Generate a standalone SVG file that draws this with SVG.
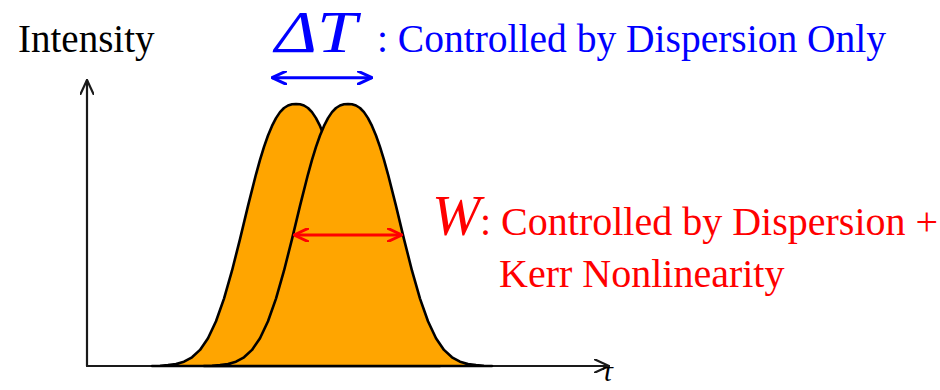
<svg xmlns="http://www.w3.org/2000/svg" width="940" height="390" viewBox="0 0 940 390">
  <style>
    .axis { fill: none; stroke: #1a1a1a; stroke-width: 2.2; stroke-linecap: round; }
    .pulse { fill: #FFA500; stroke: #000; stroke-width: 2.6; stroke-linejoin: round; }
    .blue { fill: none; stroke: #0000FF; stroke-width: 3; }
    .red { fill: none; stroke: #FF0000; stroke-width: 3; }
    text { font-family: "Liberation Serif", Tinos, "Times New Roman", Times, "Noto Serif", "DejaVu Serif", FreeSerif, serif; }
    .it { font-style: italic; }
  </style>
  <defs>
    <marker id="ah-k" viewBox="0 0 16 14" refX="15" refY="7" markerWidth="16" markerHeight="14" markerUnits="userSpaceOnUse" orient="auto-start-reverse">
      <path d="M1,0.5 L15,7 L1,13.5" fill="none" stroke="#1a1a1a" stroke-width="2.2" stroke-linejoin="round" stroke-linecap="round"/>
    </marker>
    <marker id="ah-b" viewBox="0 0 16 14" refX="15" refY="7" markerWidth="16" markerHeight="14" markerUnits="userSpaceOnUse" orient="auto-start-reverse">
      <path d="M1,0.5 L15,7 L1,13.5" fill="none" stroke="#0000FF" stroke-width="3" stroke-linejoin="round" stroke-linecap="round"/>
    </marker>
    <marker id="ah-r" viewBox="0 0 16 14" refX="15" refY="7" markerWidth="16" markerHeight="14" markerUnits="userSpaceOnUse" orient="auto-start-reverse">
      <path d="M1,0.5 L15,7 L1,13.5" fill="none" stroke="#FF0000" stroke-width="3" stroke-linejoin="round" stroke-linecap="round"/>
    </marker>
  </defs>

  <g id="axes">
    <line class="axis" x1="87" y1="366" x2="87" y2="80" marker-end="url(#ah-k)"/>
    <line class="axis" x1="87" y1="366" x2="609" y2="366" marker-end="url(#ah-k)"/>
    <text x="18" y="52" font-size="39" fill="#000">Intensity</text>
    <text class="it" x="602" y="381" font-size="30" fill="#000">τ</text>
  </g>

  <g id="pulse-left">
    <path class="pulse" d="M152,366 L160,365.7 L168,365.1 L176,364 L184,361.7 L192,357.3 L200,349.9 L208,338.2 L216,321.3 L224,298.6 L232,270.7 L240,239.1 L248,205.9 L256,174.3 L260,159.9 L264,146.9 L268,135.5 L272,125.9 L276,118.1 L280,112.1 L284,108 L288,105.5 L292,104.3 L296,104 L300,104.3 L304,105.5 L308,108 L312,112.1 L316,118.1 L320,125.9 L324,135.5 L328,146.9 L332,159.9 L336,174.3 L344,205.9 L352,239.1 L360,270.7 L368,298.6 L376,321.3 L384,338.2 L392,349.9 L400,357.3 L408,361.7 L416,364 L424,365.1 L432,365.7 L440,366 Z"/>
  </g>

  <g id="pulse-right">
    <path class="pulse" d="M204,366 L212,365.7 L220,365.1 L228,364 L236,361.7 L244,357.3 L252,349.9 L260,338.2 L268,321.3 L276,298.6 L284,270.7 L292,239.1 L300,205.9 L308,174.3 L312,159.9 L316,146.9 L320,135.5 L324,125.9 L328,118.1 L332,112.1 L336,108 L340,105.5 L344,104.3 L348,104 L352,104.3 L356,105.5 L360,108 L364,112.1 L368,118.1 L372,125.9 L376,135.5 L380,146.9 L384,159.9 L388,174.3 L396,205.9 L404,239.1 L412,270.7 L420,298.6 L428,321.3 L436,338.2 L444,349.9 L452,357.3 L460,361.7 L468,364 L476,365.1 L484,365.7 L492,366 Z"/>
  </g>

  <g id="connectors">
    <line class="blue" x1="272" y1="77.7" x2="372" y2="77.7" marker-start="url(#ah-b)" marker-end="url(#ah-b)"/>
    <line class="red" x1="294" y1="235" x2="402" y2="235" marker-start="url(#ah-r)" marker-end="url(#ah-r)"/>
  </g>

  <g id="label-dt">
    <text class="it" x="275" y="52" font-size="59" fill="#0000FF" textLength="82" lengthAdjust="spacingAndGlyphs">ΔT</text>
    <text x="377" y="52" font-size="39.5" fill="#0000FF">: Controlled by Dispersion Only</text>
  </g>

  <g id="label-w">
    <text class="it" x="432" y="235" font-size="58" fill="#FF0000">W</text>
    <text x="480" y="235" font-size="40" fill="#FF0000">: Controlled by Dispersion +</text>
    <text x="499" y="287" font-size="40" fill="#FF0000">Kerr Nonlinearity</text>
  </g>
</svg>
